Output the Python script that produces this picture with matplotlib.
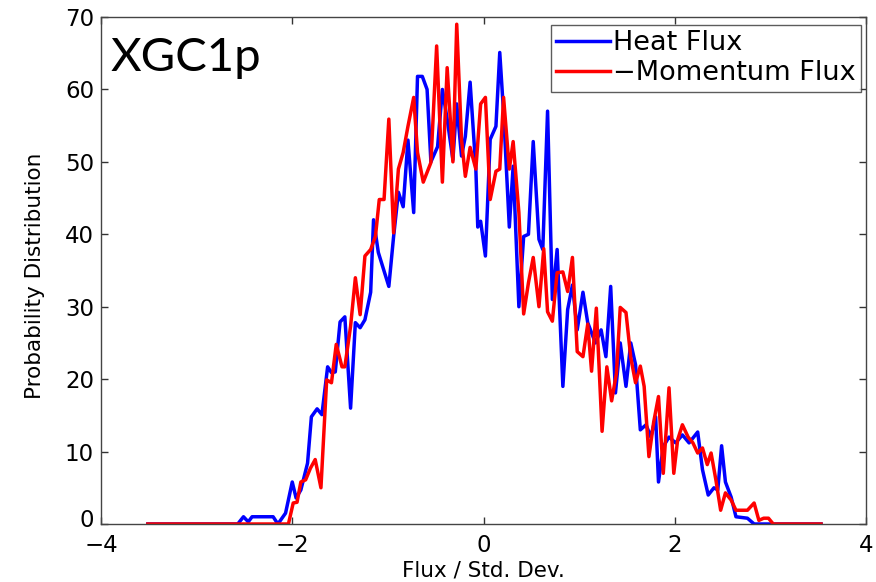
import matplotlib
matplotlib.use("Agg")
import matplotlib.pyplot as plt
import matplotlib.transforms as mtransforms

# ---- data (x in Flux / Std. Dev., y = probability distribution) ----
heat_x = [-3.51, -2.57, -2.51, -2.46, -2.42, -2.20, -2.15, -2.07, -2.00, -1.96, -1.91, -1.84,
          -1.80, -1.74, -1.69, -1.63, -1.59, -1.55, -1.50, -1.45, -1.39, -1.34, -1.29, -1.24,
          -1.18, -1.15, -1.10, -0.99, -0.94, -0.89, -0.84, -0.79, -0.73, -0.69, -0.64, -0.59,
          -0.55, -0.48, -0.43, -0.38, -0.32, -0.28, -0.23, -0.19, -0.14, -0.08, -0.06, -0.03,
          0.02, 0.07, 0.13, 0.17, 0.21, 0.27, 0.31, 0.37, 0.42, 0.47, 0.52, 0.58, 0.62,
          0.67, 0.72, 0.77, 0.83, 0.88, 0.93, 0.98, 1.04, 1.09, 1.17, 1.23, 1.28, 1.33,
          1.38, 1.43, 1.49, 1.54, 1.59, 1.64, 1.70, 1.75, 1.80, 1.83, 1.88, 1.94, 2.01,
          2.08, 2.15, 2.24, 2.29, 2.35, 2.41, 2.45, 2.49, 2.53, 2.59, 2.64, 2.76, 2.83, 3.53]
heat_y = [0, 0, 1.0, 0.3, 1.0, 1.0, 0, 1.5, 5.8, 3.6, 4.7, 8.4,
          14.8, 15.9, 15.1, 21.7, 20.9, 21.0, 27.9, 28.6, 16.0, 27.8, 27.1, 28.2,
          32.0, 42.0, 37.5, 32.8, 39.7, 45.8, 43.8, 53.0, 43.0, 61.8, 61.8, 60.0,
          50.0, 52.1, 60.0, 55.9, 50.3, 58.0, 50.8, 53.5, 61.0, 49.0, 41.0, 41.8,
          37.0, 53.1, 54.9, 65.1, 56.8, 41.0, 49.4, 30.0, 39.7, 40.0, 52.8, 39.3, 37.9,
          57.0, 31.0, 37.9, 19.0, 29.6, 33.0, 26.8, 32.0, 27.8, 25.0, 26.8, 23.1, 32.8,
          18.1, 25.0, 19.0, 25.0, 22.0, 13.0, 13.7, 12.0, 14.8, 5.8, 10.7, 12.0, 11.2,
          12.3, 11.2, 12.7, 7.5, 4.0, 5.0, 4.7, 10.8, 5.8, 3.7, 1.0, 0.8, 0, 0]

mom_x = [-3.51, -2.04, -1.99, -1.95, -1.91, -1.86, -1.81, -1.76, -1.70, -1.64, -1.59, -1.54,
         -1.48, -1.45, -1.39, -1.34, -1.29, -1.24, -1.18, -1.13, -1.09, -1.04, -0.99, -0.94,
         -0.89, -0.84, -0.79, -0.73, -0.69, -0.63, -0.55, -0.49, -0.43, -0.38, -0.32, -0.28,
         -0.23, -0.19, -0.14, -0.08, -0.03, 0.02, 0.07, 0.13, 0.17, 0.21, 0.27, 0.31,
         0.37, 0.42, 0.47, 0.52, 0.58, 0.63, 0.67, 0.72, 0.77, 0.83, 0.88, 0.93, 0.98,
         1.04, 1.09, 1.13, 1.18, 1.24, 1.29, 1.34, 1.39, 1.43, 1.49, 1.54, 1.59, 1.64,
         1.68, 1.73, 1.78, 1.83, 1.88, 1.94, 1.99, 2.03, 2.08, 2.14, 2.19, 2.24, 2.29,
         2.34, 2.38, 2.43, 2.48, 2.53, 2.59, 2.64, 2.76, 2.83, 2.88, 2.93, 2.98, 3.03, 3.53]
mom_y = [0, 0, 2.9, 3.0, 5.8, 6.1, 7.7, 8.9, 5.0, 19.9, 19.5, 24.8,
         21.7, 21.7, 27.3, 34.0, 28.9, 37.0, 37.9, 39.7, 44.8, 44.8, 55.9, 40.2,
         49.0, 51.3, 54.9, 58.9, 51.3, 47.2, 49.9, 66.0, 47.2, 63.0, 50.0, 69.0,
         53.1, 48.0, 52.0, 49.0, 58.0, 58.9, 44.8, 48.7, 49.0, 58.9, 49.0, 52.8,
         43.0, 29.0, 33.3, 36.8, 30.0, 38.0, 29.3, 28.0, 34.7, 34.8, 32.1, 36.8, 23.8,
         23.1, 27.6, 21.1, 29.8, 12.8, 21.7, 17.0, 20.8, 29.9, 29.2, 23.0, 19.5, 21.8,
         19.0, 9.3, 14.1, 17.6, 7.0, 18.8, 7.0, 11.6, 13.7, 12.0, 11.2, 9.8, 10.5,
         8.2, 9.8, 6.1, 1.9, 4.3, 3.3, 1.9, 1.9, 2.9, 0.5, 0.8, 0.8, 0, 0]

heat_label = "Heat Flux"
mom_label = "\u2212Momentum Flux"
x_ticks = [-4, -2, 0, 2, 4]
y_ticks = [0, 10, 20, 30, 40, 50, 60, 70]

plt.rcParams['font.family'] = ['DejaVu Sans']
W, H = 876, 582
fig = plt.figure(figsize=(W / 100, H / 100), dpi=100)
ax = fig.add_axes([101 / W, 1 - 524 / H, (866 - 101) / W, (524 - 17) / H])

ax.plot(heat_x, heat_y, color='#0000ff', lw=2.5, label=heat_label)
ax.plot(mom_x, mom_y, color='#ff0000', lw=2.5, label=mom_label)

ax.set_xlim(-4, 4)
ax.set_ylim(0, 70)
ax.set_xticks(x_ticks)
ax.set_xticklabels([("\u2212%d" % -t) if t < 0 else "%d" % t for t in x_ticks])
ax.set_yticks(y_ticks)
ax.tick_params(direction='in', length=5, width=1, top=True, right=True,
               labelsize=16.5, colors='#333333', labelcolor='black', pad=5)
ax.tick_params(axis='x', pad=7)
for s in ax.spines.values():
    s.set_color('#444444')
    s.set_linewidth(1)

ax.set_xlabel("Flux / Std. Dev.", fontsize=15.5, va='bottom')
ax.xaxis.set_label_coords(0.5, -(581 - 524) / (524 - 17))
ax.set_ylabel("Probability Distribution", fontsize=15.5)
ax.yaxis.set_label_coords(-0.073, 0.49)

leg = ax.legend(loc='upper right', bbox_to_anchor=(861 / W, 1 - 25 / H),
                bbox_transform=fig.transFigure, fontsize=19.5, frameon=True,
                fancybox=False, edgecolor='#333333', handlelength=2.0,
                handletextpad=0.1, borderpad=0.2, labelspacing=0.15,
                borderaxespad=0.0)
leg.get_frame().set_linewidth(1)

ax.text(0.012, 0.96, "XGC1p", transform=ax.transAxes, fontsize=34,
        family=['Lato', 'DejaVu Sans'], va='top', ha='left')

# lift the y "0" label slightly so it does not collide with the x "-4" label
fig.canvas.draw()
zero_lbl = ax.yaxis.get_major_ticks()[0].label1
zero_lbl.set_transform(zero_lbl.get_transform() +
                       mtransforms.ScaledTranslation(0, 4 / 72, fig.dpi_scale_trans))

fig.savefig("out.png", dpi=100)
